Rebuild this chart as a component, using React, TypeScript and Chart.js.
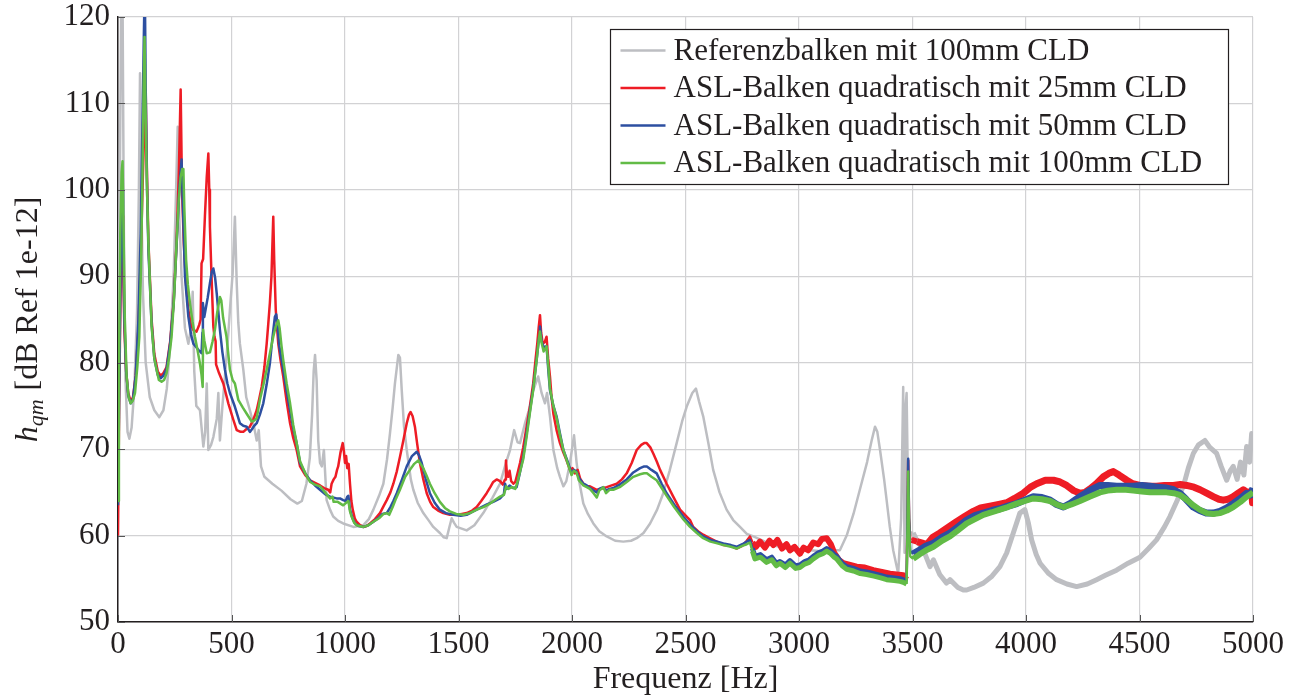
import React, { useEffect, useRef } from "react";
import { Chart, registerables } from "chart.js";

Chart.register(...registerables);

// ---------- axis ticks ----------
const xTickValues = [0, 500, 1000, 1500, 2000, 2500, 3000, 3500, 4000, 4500, 5000];
const yTickValues = [50, 60, 70, 80, 90, 100, 110, 120];

// ---------- labels & colours ----------
const seriesLabels = [
  "Referenzbalken mit 100mm CLD",
  "ASL-Balken quadratisch mit 25mm CLD",
  "ASL-Balken quadratisch mit 50mm CLD",
  "ASL-Balken quadratisch mit 100mm CLD",
];
const seriesColors = ["#bdbec2", "#ee1c25", "#2d4fa1", "#62bb46"];

// ---------- Referenzbalken 100mm CLD ----------
const refFreq = [0, 8, 14, 20, 26, 33, 42, 50, 60, 72, 84, 92, 97, 102, 110, 122, 140, 160, 182, 200, 215, 230, 245, 255, 263, 270, 280, 295, 310, 322, 329, 336, 345, 361, 376, 384, 391, 398, 410, 420, 435, 442, 449, 460, 471, 485, 493, 505, 515, 523, 530, 537, 552, 565, 581, 600, 611, 620, 630, 645, 680, 720, 760, 790, 810, 830, 845, 855, 862, 868, 875, 882, 890, 898, 907, 919, 934, 948, 970, 992, 1037, 1081, 1105, 1125, 1150, 1169, 1185, 1198, 1210, 1220, 1235, 1242, 1250, 1260, 1272, 1290, 1301, 1320, 1345, 1370, 1389, 1418, 1435, 1448, 1460, 1470, 1480, 1492, 1536, 1570, 1609, 1650, 1683, 1710, 1727, 1745, 1760, 1771, 1793, 1810, 1829, 1851, 1866, 1881, 1890, 1903, 1918, 1935, 1947, 1962, 1975, 1991, 2009, 2020, 2028, 2050, 2070, 2094, 2120, 2153, 2190, 2226, 2260, 2285, 2315, 2344, 2375, 2402, 2430, 2461, 2485, 2505, 2530, 2546, 2560, 2578, 2600, 2622, 2650, 2681, 2710, 2740, 2770, 2799, 2850, 2900, 2950, 3000, 3050, 3100, 3150, 3180, 3210, 3240, 3270, 3300, 3320, 3335, 3345, 3357, 3375, 3386, 3400, 3415, 3437, 3450, 3459, 3465, 3470, 3474, 3482, 3489, 3503, 3518, 3550, 3577, 3592, 3620, 3650, 3665, 3700, 3724, 3739, 3770, 3812, 3850, 3885, 3915, 3944, 3973, 3995, 4010, 4025, 4045, 4062, 4100, 4135, 4180, 4223, 4270, 4311, 4350, 4399, 4450, 4502, 4540, 4575, 4610, 4634, 4665, 4693, 4715, 4737, 4760, 4788, 4810, 4840, 4860, 4884, 4900, 4913, 4930, 4945, 4960, 4972, 4985, 4994, 5000];
const refLevel = [80, 100, 122, 122, 95, 78, 72, 71.2, 72.5, 77, 86, 100, 113.5, 100, 88, 80, 76, 74.5, 73.7, 74.5, 77, 82, 90, 99, 107.3, 97, 90, 84, 82.2, 84, 88.2, 79, 75, 74.5, 70.3, 72, 77.6, 69.9, 70.5, 71.4, 73.5, 76.5, 71, 75, 78.4, 83, 86.1, 90.3, 96.9, 89.2, 84.6, 82.2, 79.2, 76, 74.5, 72.5, 71, 72.2, 68, 66.8, 66, 65.2, 64.2, 63.7, 64, 66, 69, 74, 79, 80.9, 78, 71, 68.4, 68, 69.9, 64.1, 63, 62.2, 61.7, 61.4, 61, 61.2, 61.9, 63, 64.6, 66, 68.8, 71.8, 74.8, 77.6, 80.9, 80.6, 76.8, 72.6, 69.9, 66.5, 65.3, 63.8, 62.6, 61.7, 61, 60.3, 59.8, 59.7, 61, 62, 61.5, 61, 60.6, 61.2, 62.6, 64.4, 66, 68.5, 69.9, 72.2, 70.8, 70.7, 73, 74.5, 76.8, 78.4, 76.5, 75.3, 76.5, 73.8, 69.9, 67.8, 66.8, 65.7, 66.3, 68.4, 71.6, 68.5, 66.8, 63.7, 62.5, 61.4, 60.5, 59.9, 59.4, 59.3, 59.4, 59.7, 60.3, 61.4, 63, 64.9, 67.5, 70.7, 73.2, 74.9, 76.5, 77, 75.5, 73.8, 70.8, 67.6, 65, 63, 61.8, 61, 60.2, 59.9, 59.3, 58.8, 58.5, 58.3, 58.3, 58.2, 58.3, 58.3, 60, 62.5, 65.5, 68.5, 71, 72.6, 72, 69.9, 66.5, 64.1, 61, 58.3, 55.6, 62, 77.2, 58, 75, 76.5, 62, 60.4, 60.3, 59.5, 58.2, 56.4, 57.2, 55.5, 54.5, 54.9, 54, 53.7, 53.7, 54, 54.5, 55.3, 56.4, 58, 60.3, 62.6, 63, 61.5, 59.5, 57.8, 56.8, 55.6, 54.9, 54.4, 54.1, 54.4, 54.9, 55.4, 56, 56.8, 57.5, 58.5, 59.5, 61, 62.2, 64, 65.7, 67.8, 69.5, 70.5, 71, 70.2, 69.5, 68, 66.4, 67.5, 68, 66.5, 68.5, 67, 70.3, 68.5, 71.8, 70];

// ---------- ASL 25mm CLD ----------
const asl25Freq = [0, 5, 12, 18, 22, 28, 36, 45, 56, 66, 78, 90, 100, 110, 117, 122, 126, 134, 148, 160, 175, 188, 200, 214, 230, 245, 258, 268, 276, 282, 290, 300, 310, 320, 332, 346, 358, 364, 368, 375, 383, 391, 398, 402, 405, 412, 420, 425, 430, 432, 445, 464, 486, 508, 523, 540, 552, 565, 581, 596, 611, 622, 633, 645, 655, 662, 669, 676, 680, 684, 688, 695, 706, 716, 728, 743, 758, 772, 787, 802, 825, 846, 868, 890, 908, 926, 935, 941, 950, 958, 965, 970, 980, 990, 995, 1000, 1005, 1010, 1016, 1022, 1028, 1034, 1043, 1051, 1066, 1081, 1095, 1110, 1132, 1154, 1170, 1184, 1200, 1213, 1228, 1242, 1257, 1272, 1282, 1289, 1298, 1308, 1318, 1330, 1345, 1360, 1375, 1389, 1410, 1433, 1462, 1492, 1515, 1536, 1560, 1580, 1600, 1624, 1640, 1653, 1668, 1683, 1695, 1705, 1709, 1714, 1719, 1725, 1732, 1742, 1750, 1760, 1771, 1785, 1800, 1815, 1829, 1840, 1847, 1853, 1859, 1864, 1871, 1880, 1888, 1895, 1903, 1910, 1918, 1932, 1947, 1962, 1976, 1991, 2002, 2013, 2025, 2036, 2050, 2065, 2079, 2094, 2109, 2125, 2140, 2153, 2175, 2197, 2220, 2241, 2263, 2285, 2305, 2318, 2329, 2345, 2358, 2373, 2388, 2417, 2446, 2476, 2505, 2520, 2534, 2560, 2578, 2600, 2637, 2667, 2700, 2725, 2750, 2770, 2784, 2795, 2810, 2828, 2850, 2870, 2887, 2905, 2925, 2945, 2960, 2980, 3004, 3020, 3040, 3063, 3085, 3100, 3122, 3140, 3155, 3175, 3195, 3225, 3254, 3290, 3327, 3365, 3401, 3430, 3459, 3474, 3478, 3481, 3485, 3490, 3496, 3520, 3547, 3562, 3590, 3621, 3660, 3694, 3730, 3768, 3800, 3841, 3880, 3915, 3950, 3988, 4020, 4047, 4085, 4121, 4150, 4179, 4210, 4238, 4260, 4282, 4310, 4341, 4365, 4385, 4410, 4444, 4470, 4502, 4540, 4575, 4610, 4649, 4680, 4708, 4740, 4767, 4796, 4825, 4850, 4869, 4890, 4913, 4935, 4957, 4975, 4994, 4998, 5000];
const asl25Level = [60, 75, 90, 97, 92, 84, 79, 76.5, 75.5, 76, 78.5, 84, 92, 102, 108, 111.5, 104, 94, 85, 81, 79, 78.5, 78.8, 79.5, 82.5, 87, 94, 102, 111.6, 100, 93.8, 89, 86.1, 84.5, 83.8, 83.6, 84.4, 85, 91.5, 92, 97, 101.5, 104.2, 100, 95.7, 90, 84.2, 83, 82.5, 79.8, 78.8, 77.6, 75.3, 73.4, 72.2, 72, 72, 72.3, 72.6, 73.4, 74.5, 75.8, 77.2, 79.5, 82.2, 84.5, 86.9, 90, 93.5, 96.9, 92, 86.1, 82.2, 80.3, 78.4, 75.5, 73, 71.3, 69.9, 68, 67, 66.4, 66.1, 65.8, 65.5, 65.3, 65, 66, 66.5, 66.8, 67.6, 68, 69.6, 70.7, 69.8, 68.4, 69.2, 67.8, 68.3, 66, 64, 63, 62, 61.6, 61.2, 61, 61.1, 61.4, 61.9, 62.6, 63.4, 64.1, 65, 66, 67.4, 69.1, 71, 73, 74, 74.3, 73.8, 72.6, 70.6, 68.4, 66.5, 64.9, 63.9, 63.3, 62.9, 62.6, 62.4, 62.4, 62.5, 62.6, 62.9, 63.3, 64, 64.9, 65.6, 66.2, 66.5, 66.3, 65.9, 66.5, 68.7, 66.9, 66.8, 67.5, 66.3, 66, 66.2, 67.2, 68.4, 70.2, 72.6, 75, 77.6, 80.5, 82.2, 84, 85.5, 83.5, 82.2, 82.4, 83, 80.5, 78.4, 76, 74.1, 72.2, 70.7, 69.6, 68.7, 67.6, 67.8, 67.2, 67.6, 66.6, 66, 65.7, 65.7, 65.5, 65.3, 65.4, 65.5, 65.6, 65.8, 66, 66.5, 67.2, 68.4, 69.9, 70.5, 70.7, 70.7, 70.2, 69.5, 68.6, 67.6, 66, 64.5, 63, 62.2, 61.8, 61, 60.4, 60.1, 59.8, 59.3, 58.9, 58.8, 58.5, 58.8, 59.4, 59.9, 59.2, 58.7, 59.3, 58.6, 59.4, 58.9, 59.5, 58.5, 59, 58.3, 58.7, 57.9, 58.6, 58.3, 59.2, 59, 59.6, 59.7, 59, 58, 57.2, 56.8, 56.6, 56.4, 56.3, 56, 55.8, 55.6, 55.5, 55.4, 54.9, 62, 68.7, 62, 59.6, 59.5, 59.3, 59.1, 58.9, 59.8, 60.3, 61, 61.6, 62.2, 62.8, 63.2, 63.4, 63.6, 63.8, 64.3, 64.9, 65.6, 66, 66.4, 66.4, 66.2, 65.8, 65.2, 64.9, 65, 65.4, 66, 66.8, 67.2, 67.4, 67, 66.4, 66, 65.8, 65.7, 65.7, 65.8, 65.8, 65.9, 65.8, 65.6, 65.3, 64.9, 64.5, 64.2, 64.1, 64.2, 64.5, 64.9, 65.3, 65, 65.1, 63.8, 65];

// ---------- ASL 50mm CLD ----------
const asl50Freq = [0, 5, 12, 18, 22, 28, 36, 45, 56, 66, 78, 90, 100, 108, 114, 118, 122, 128, 134, 148, 160, 175, 188, 200, 214, 230, 245, 258, 270, 280, 286, 295, 310, 322, 332, 354, 368, 372, 374, 380, 383, 395, 405, 413, 420, 428, 435, 449, 460, 471, 482, 493, 515, 537, 552, 567, 581, 590, 600, 611, 625, 640, 655, 669, 680, 691, 697, 703, 710, 728, 743, 758, 772, 787, 802, 825, 846, 868, 890, 912, 934, 963, 978, 992, 1003, 1010, 1015, 1022, 1033, 1044, 1060, 1081, 1103, 1125, 1150, 1165, 1184, 1200, 1213, 1228, 1250, 1272, 1295, 1316, 1326, 1338, 1355, 1374, 1395, 1418, 1445, 1477, 1510, 1536, 1565, 1595, 1625, 1653, 1683, 1700, 1705, 1712, 1725, 1740, 1756, 1770, 1785, 1800, 1815, 1829, 1845, 1855, 1859, 1866, 1875, 1888, 1896, 1903, 1918, 1932, 1947, 1962, 1983, 1998, 2008, 2020, 2030, 2050, 2065, 2079, 2095, 2109, 2120, 2138, 2150, 2165, 2182, 2210, 2241, 2270, 2300, 2318, 2330, 2350, 2373, 2395, 2417, 2450, 2490, 2520, 2550, 2578, 2610, 2640, 2667, 2700, 2725, 2750, 2770, 2784, 2795, 2806, 2830, 2857, 2880, 2900, 2916, 2940, 2960, 2985, 3004, 3025, 3045, 3063, 3085, 3105, 3122, 3140, 3155, 3166, 3190, 3210, 3240, 3270, 3298, 3330, 3360, 3386, 3420, 3445, 3459, 3474, 3478, 3481, 3485, 3490, 3503, 3530, 3560, 3592, 3630, 3665, 3700, 3739, 3775, 3812, 3850, 3885, 3920, 3959, 3995, 4032, 4070, 4106, 4135, 4165, 4200, 4238, 4280, 4326, 4360, 4399, 4440, 4473, 4510, 4546, 4580, 4619, 4650, 4678, 4705, 4737, 4765, 4796, 4825, 4854, 4885, 4913, 4945, 4972, 4990, 5000];
const asl50Level = [63.5, 76, 92, 100, 95, 85, 79, 76.2, 75.3, 75.8, 78.5, 85, 95, 108, 118, 124, 112, 100, 93, 84.5, 80.5, 78.6, 78.2, 78.5, 79.3, 82.3, 86.8, 93.5, 100, 103.5, 98, 90, 85.3, 83.2, 82.2, 81.5, 81.1, 83.5, 86.9, 85.3, 85.3, 87.5, 89.2, 90.5, 90.9, 89.8, 88, 83.8, 81.2, 79.2, 77.6, 76.5, 74.9, 73, 72.7, 72.6, 72, 72.3, 72.7, 73, 74, 75.3, 77.5, 79.9, 82.8, 85.3, 85.6, 84.3, 82, 79.2, 76.7, 74.5, 72.4, 70.7, 68.4, 67.2, 66.4, 65.8, 65.3, 64.8, 64.5, 64.3, 64.3, 64.1, 64, 64.5, 64.6, 63, 62, 61.4, 61.1, 61, 61.2, 61.6, 62.1, 62.5, 62.6, 63.3, 64, 64.9, 66.4, 68, 69.2, 69.7, 69.3, 68.4, 66.6, 64.9, 63.8, 63, 62.6, 62.4, 62.3, 62.4, 62.8, 63.2, 63.6, 63.9, 64.3, 64.8, 66, 65.4, 65.8, 65.5, 65.6, 67.2, 69.1, 71.8, 74.5, 77, 80.5, 83, 84.2, 82.5, 81.8, 81.9, 79, 76.8, 75, 73.8, 71.8, 69.9, 68.4, 67.2, 67.6, 67.4, 66.7, 66, 65.8, 65.5, 65.2, 65, 65.4, 65.6, 65.2, 65.4, 65.5, 65.9, 66.5, 67.3, 67.8, 68, 68, 67.6, 67.2, 66, 64.9, 63.6, 62.2, 61.3, 60.5, 59.9, 59.5, 59.3, 59.1, 58.9, 58.7, 59, 59.3, 59.5, 58.5, 57.6, 57.8, 57.2, 57.5, 56.8, 57, 56.6, 57.1, 56.5, 56.6, 57, 57.2, 57.6, 58, 58.2, 58.5, 58.2, 57.8, 57.6, 56.8, 56.4, 56.2, 55.9, 55.8, 55.6, 55.4, 55.2, 55.1, 55, 54.9, 54.7, 62, 68.9, 62, 58.2, 57.9, 58.3, 58.8, 59.1, 59.8, 60.3, 61, 61.8, 62.3, 62.6, 62.9, 63.1, 63.4, 63.7, 64.1, 64.5, 64.4, 64.1, 63.6, 63.3, 63.8, 64.5, 65.2, 65.8, 65.8, 65.7, 65.7, 65.7, 65.8, 65.7, 65.6, 65.5, 65.3, 64.9, 64.2, 63.3, 62.9, 62.6, 62.6, 62.8, 63.2, 63.7, 64.3, 64.9, 64.7, 65.5];

// ---------- ASL 100mm CLD ----------
const asl100Freq = [0, 4, 10, 16, 20, 24, 30, 38, 47, 56, 65, 75, 85, 94, 102, 108, 113, 117, 121, 127, 134, 148, 160, 170, 180, 192, 203, 214, 225, 236, 247, 258, 268, 276, 283, 288, 292, 300, 308, 317, 328, 339, 350, 361, 368, 373, 375, 380, 391, 405, 416, 427, 437, 449, 455, 463, 478, 493, 505, 515, 530, 550, 567, 589, 600, 611, 618, 625, 640, 655, 670, 684, 695, 706, 712, 720, 728, 743, 758, 772, 787, 802, 825, 846, 868, 890, 912, 934, 945, 950, 968, 980, 992, 1005, 1015, 1022, 1029, 1040, 1051, 1081, 1103, 1125, 1150, 1170, 1184, 1195, 1210, 1225, 1242, 1265, 1286, 1305, 1323, 1335, 1345, 1360, 1374, 1395, 1418, 1440, 1462, 1490, 1521, 1550, 1580, 1610, 1639, 1665, 1683, 1700, 1710, 1720, 1735, 1750, 1760, 1771, 1785, 1800, 1815, 1829, 1843, 1853, 1859, 1866, 1875, 1888, 1896, 1903, 1918, 1932, 1947, 1962, 1983, 1998, 2008, 2020, 2030, 2050, 2065, 2079, 2095, 2109, 2120, 2138, 2150, 2165, 2182, 2210, 2241, 2270, 2300, 2318, 2330, 2350, 2373, 2395, 2417, 2450, 2490, 2520, 2550, 2578, 2610, 2640, 2667, 2700, 2725, 2750, 2770, 2784, 2795, 2806, 2830, 2857, 2880, 2900, 2916, 2940, 2960, 2985, 3004, 3025, 3045, 3063, 3085, 3105, 3122, 3140, 3155, 3166, 3190, 3210, 3240, 3270, 3298, 3330, 3360, 3386, 3420, 3445, 3459, 3474, 3478, 3481, 3485, 3490, 3503, 3530, 3560, 3592, 3630, 3665, 3700, 3739, 3775, 3812, 3850, 3885, 3920, 3959, 3995, 4032, 4070, 4106, 4135, 4165, 4200, 4238, 4280, 4326, 4360, 4399, 4440, 4473, 4510, 4546, 4580, 4619, 4650, 4678, 4705, 4737, 4765, 4796, 4825, 4854, 4885, 4913, 4945, 4972, 4990, 5000];
const asl100Level = [64, 78, 95, 102, 103.3, 96, 85, 78.4, 76, 75.3, 75.6, 76.5, 79.5, 83, 92, 102, 112, 117.7, 110, 101, 93.8, 84.2, 80.5, 79.2, 78, 77.8, 78, 78.8, 80.6, 83, 87.5, 93.8, 99, 101.5, 102.4, 102.4, 98, 91.9, 89, 86.9, 84.8, 83, 81.5, 79.9, 78.6, 77.2, 83.8, 82.6, 81.1, 81.2, 82.4, 83.8, 85.8, 87.6, 87.2, 85.2, 83, 79.2, 78, 77.6, 75.7, 74.8, 74.1, 73.2, 73.3, 73.6, 74.6, 75.7, 77.4, 79.2, 81.2, 83, 84.2, 84.9, 84, 82, 80.3, 77.6, 75.3, 72.8, 70.7, 68.6, 67.2, 66.2, 65.9, 65.7, 65, 64.3, 64.5, 63.9, 63.9, 63.7, 63.5, 63.8, 64, 62.8, 62.2, 61.5, 61.2, 61, 61.2, 61.6, 62, 62.5, 62.6, 62.4, 63.3, 64.3, 65.3, 66.8, 67.6, 68.3, 68.7, 68.2, 67.8, 66.9, 66, 64.9, 63.9, 63.2, 62.8, 62.5, 62.4, 62.6, 63, 63.3, 63.7, 64.2, 64.5, 64.7, 65.7, 65.4, 65.6, 65.4, 66.2, 67.4, 68.8, 71.4, 74.3, 76.8, 80, 82.5, 83.6, 82.3, 81.3, 81.9, 79.5, 77, 75, 73.6, 71.6, 69.9, 68.2, 67, 67.5, 67.3, 66.4, 65.8, 65.6, 65.4, 64.9, 64.4, 65.2, 65.6, 64.9, 65.3, 65.3, 65.6, 66.2, 66.8, 67.1, 67.2, 67.2, 66.8, 66.4, 65.5, 64.6, 63.3, 61.9, 61, 60.3, 59.7, 59.3, 59.1, 58.9, 58.7, 58.5, 58.8, 59, 59.2, 58.2, 57.3, 57.5, 56.9, 57.2, 56.5, 56.8, 56.3, 56.8, 56.2, 56.3, 56.7, 56.9, 57.3, 57.7, 57.9, 58.2, 57.9, 57.5, 57.3, 56.5, 56.1, 55.9, 55.6, 55.5, 55.3, 55.1, 54.9, 54.8, 54.7, 54.6, 54.4, 61, 67.4, 61, 57.6, 57.3, 57.8, 58.3, 58.7, 59.4, 59.9, 60.6, 61.4, 61.9, 62.4, 62.7, 63, 63.3, 63.7, 64, 64.3, 64.2, 64, 63.6, 63.3, 63.6, 64, 64.5, 65, 65.2, 65.3, 65.3, 65.2, 65.1, 65, 65, 65, 64.9, 64.7, 64.2, 63.5, 63, 62.6, 62.5, 62.6, 62.9, 63.3, 63.9, 64.5, 64.8, 65];

// frequency ranges where each measured series is a noisy band, with the band's stroke width
const noiseStart = [3500, 2790, 2790, 2790];
const noiseWidthLow = [5, 6, 5, 5];
const noiseWidthHigh = [5, 7, 7, 6];

const FONT = "'Liberation Serif', 'Times New Roman', serif";
const TEXT_COLOR = "#231f20";

function toPoints(freq: number[], level: number[]) {
  return freq.map((f, i) => ({ x: f, y: level[i] }));
}

const overlayPlugin = {
  id: "overlay",
  afterDraw(chart: any) {
    const ctx = chart.ctx as CanvasRenderingContext2D;
    const area = chart.chartArea;
    const xs = chart.scales.x;
    const ys = chart.scales.y;

    // inward tick marks on left and bottom axes
    ctx.save();
    ctx.strokeStyle = "#555";
    ctx.lineWidth = 1;
    ctx.beginPath();
    xTickValues.forEach((v) => {
      const px = Math.round(xs.getPixelForValue(v)) + 0.5;
      ctx.moveTo(px, area.bottom);
      ctx.lineTo(px, area.bottom - 7);
    });
    yTickValues.forEach((v) => {
      const py = Math.round(ys.getPixelForValue(v)) + 0.5;
      ctx.moveTo(area.left, py);
      ctx.lineTo(area.left + 7, py);
    });
    ctx.stroke();
    ctx.restore();

    // legend box
    const bx = 610.5, by = 29.5, bw = 618, bh = 155;
    ctx.save();
    ctx.fillStyle = "#ffffff";
    ctx.fillRect(bx, by, bw, bh);
    ctx.strokeStyle = "#231f20";
    ctx.lineWidth = 1.2;
    ctx.strokeRect(bx, by, bw, bh);
    ctx.font = `31px ${FONT}`;
    ctx.textBaseline = "middle";
    ctx.textAlign = "left";
    chart.data.datasets.forEach((ds: any, i: number) => {
      const cy = by + 21 + i * 37.5;
      ctx.strokeStyle = ds.borderColor;
      ctx.lineWidth = 2.5;
      ctx.beginPath();
      ctx.moveTo(bx + 10, cy);
      ctx.lineTo(bx + 55, cy);
      ctx.stroke();
      ctx.fillStyle = TEXT_COLOR;
      ctx.fillText(ds.label, bx + 63, cy + 1);
    });
    ctx.restore();

    // y axis title: h_qm [dB Ref 1e-12]
    ctx.save();
    const cx = 37;
    const cyMid = (area.top + area.bottom) / 2;
    ctx.translate(cx, cyMid);
    ctx.rotate(-Math.PI / 2);
    ctx.fillStyle = TEXT_COLOR;
    ctx.textBaseline = "alphabetic";
    ctx.textAlign = "left";
    const mainFont = `italic 32px ${FONT}`;
    const subFont = `italic 22px ${FONT}`;
    const restFont = `32px ${FONT}`;
    const rest = " [dB Ref 1e-12]";
    ctx.font = mainFont;
    const wH = ctx.measureText("h").width;
    ctx.font = subFont;
    const wSub = ctx.measureText("qm").width;
    ctx.font = restFont;
    const wRest = ctx.measureText(rest).width;
    const total = wH + wSub + 1 + wRest;
    let x0 = -total / 2;
    ctx.font = mainFont;
    ctx.fillText("h", x0, 0);
    x0 += wH;
    ctx.font = subFont;
    ctx.fillText("qm", x0, 6);
    x0 += wSub + 1;
    ctx.font = restFont;
    ctx.fillText(rest, x0, 0);
    ctx.restore();
  },
};

export default function App() {
  const canvasRef = useRef<HTMLCanvasElement | null>(null);

  useEffect(() => {
    const canvas = canvasRef.current;
    if (!canvas) return;
    const seriesData = [
      toPoints(refFreq, refLevel),
      toPoints(asl25Freq, asl25Level),
      toPoints(asl50Freq, asl50Level),
      toPoints(asl100Freq, asl100Level),
    ];
    const drawOrder = [3, 2, 1, 0];
    const datasets = seriesData.map((pts, i) => ({
      label: seriesLabels[i],
      data: pts,
      borderColor: seriesColors[i],
      backgroundColor: seriesColors[i],
      borderWidth: 2.5,
      pointRadius: 0,
      tension: 0,
      fill: false,
      order: drawOrder[i],
      segment: {
        borderWidth: (c: any) => {
          const x = c.p0.parsed.x;
          if (x < noiseStart[i]) return 2.5;
          if (x >= 3470 && x <= 3490) return 2.5;
          return x >= 3500 ? noiseWidthHigh[i] : noiseWidthLow[i];
        },
      },
    }));

    const chart = new Chart(canvas, {
      type: "line",
      data: { datasets },
      options: {
        animation: false,
        responsive: false,
        maintainAspectRatio: false,
        devicePixelRatio: 1,
        layout: { padding: { top: 17, right: 42, left: 0, bottom: 0 } },
        plugins: {
          legend: { display: false },
          tooltip: { enabled: false },
        },
        elements: { point: { radius: 0 }, line: { borderJoinStyle: "round" } },
        scales: {
          x: {
            type: "linear",
            min: 0,
            max: 5000,
            afterBuildTicks: (s: any) => {
              s.ticks = xTickValues.map((v) => ({ value: v }));
            },
            afterFit: (s: any) => {
              s.height = 74;
              s.paddingLeft = 0;
              s.paddingRight = 0;
            },
            ticks: {
              font: { family: FONT, size: 31 },
              color: TEXT_COLOR,
              padding: 4,
              maxRotation: 0,
              autoSkip: false,
              callback: (v: any) => String(v),
            },
            grid: { color: "#d2d2d4", lineWidth: 1.2, drawTicks: false },
            border: { color: "#231f20", width: 1.5 },
            title: {
              display: true,
              text: "Frequenz [Hz]",
              font: { family: FONT, size: 32, lineHeight: 1 },
              color: TEXT_COLOR,
              padding: { top: 0, bottom: 0 },
            },
          },
          y: {
            type: "linear",
            min: 50,
            max: 120,
            afterBuildTicks: (s: any) => {
              s.ticks = yTickValues.map((v) => ({ value: v }));
            },
            afterFit: (s: any) => {
              s.width = 118;
              s.paddingTop = 0;
              s.paddingBottom = 0;
            },
            ticks: {
              font: { family: FONT, size: 31 },
              color: TEXT_COLOR,
              padding: 8,
              callback: (v: any) => String(v),
            },
            grid: { color: "#d2d2d4", lineWidth: 1.2, drawTicks: false },
            border: { color: "#231f20", width: 1.5 },
          },
        },
      },
      plugins: [overlayPlugin],
    });
    return () => chart.destroy();
  }, []);

  return (
    <div style={{ position: "absolute", left: 0, top: 0, width: 1295, height: 696, background: "#fff" }}>
      <canvas ref={canvasRef} width={1295} height={696} />
    </div>
  );
}
